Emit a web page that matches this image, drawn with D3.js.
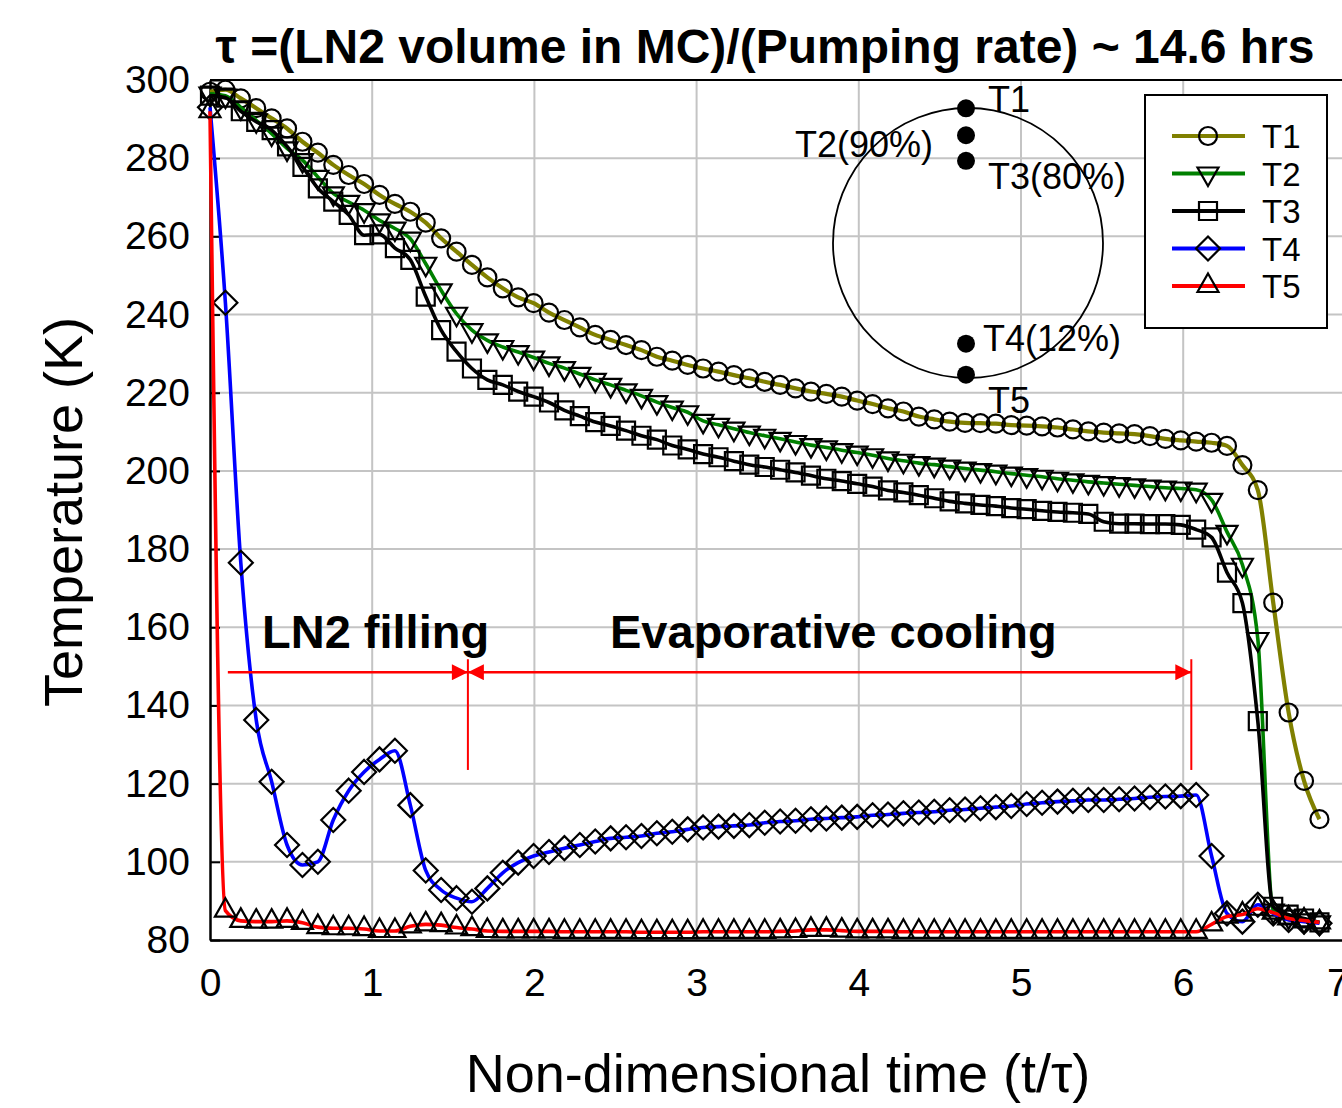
<!DOCTYPE html>
<html>
<head>
<meta charset="utf-8">
<script src="https://cdn.jsdelivr.net/npm/d3@7"></script>
<style>
  body { margin: 0; background: #fff; }
  svg { display: block; font-family: "Liberation Sans", Arial, sans-serif; }
</style>
</head>
<body>
<svg width="1342" height="1108"></svg>
<script>
// sampling interval of the logger, in units of t/tau
const dt = 0.095

const T1 = [297, 297.5, 295.3, 292.8, 290.2, 287.6, 284.2, 281.4, 278.3, 275.7,
  273.4, 270.6, 268.3, 266.3, 263.5, 259.5, 256.1, 252.7, 249.5, 246.7,
  244.4, 242.9, 240.5, 238.6, 236.7, 234.8, 233.5, 232.2, 230.9, 229.2,
  228.2, 227.1, 226.2, 225.4, 224.5, 223.7, 222.8, 222, 221.1, 220.3,
  219.7, 219, 218, 217.1, 216, 215.2, 213.9, 213.2, 212.6, 212.3,
  212.2, 212.1, 211.7, 211.6, 211.4, 211.1, 210.6, 210.1, 209.8, 209.6,
  209.4, 208.9, 208.2, 207.8, 207.5, 207.2, 206.4, 201.5, 195.1, 166.3,
  138.2, 120.7, 110.9]

const T2 = [296.5, 296, 293, 289.7, 286.3, 282.5, 279.5, 275.2, 271, 268.8,
  266.7, 264.1, 262, 259.4, 253, 246.2, 240.2, 236, 233.4, 231.7,
  230.4, 229, 227.5, 226.3, 224.8, 223.3, 222, 220.6, 219.2, 217.6,
  216.2, 215, 212.8, 211.8, 210.8, 209.8, 209, 208.2, 207.4, 206.6,
  206, 205.3, 204.7, 204, 203.2, 202.6, 202, 201.6, 201.1, 200.6,
  200.2, 199.8, 199.3, 198.9, 198.5, 198, 197.6, 197.2, 196.9, 196.6,
  196.3, 196, 195.7, 195.5, 195.2, 192.6, 184.4, 176, 157, 87.5,
  86, 85, 84.5]

const T3 = [296, 295.5, 292, 289.3, 287.2, 283, 277.8, 272.3, 268.9, 265.5,
  260.3, 260.5, 257, 254, 244.6, 236, 230.5, 226.2, 223.3, 222,
  220.3, 219, 217.5, 215.5, 214, 212.5, 211.5, 210.3, 209, 208,
  206.5, 205.5, 204.3, 203.5, 202.5, 201.6, 201, 200.3, 199.6, 198.8,
  198, 197.4, 196.7, 196, 195, 194.5, 193.8, 193, 192.2, 191.7,
  191.3, 191, 190.5, 190.2, 189.8, 189.5, 189.3, 189, 187, 186.5,
  186.5, 186.4, 186.4, 186.2, 185, 183, 174, 166.2, 136, 88.5,
  86.5, 85.5, 84.5]

const T4 = [293, 243, 176.5, 136.3, 120.5, 104.3, 99.2, 100, 110.7, 118.2,
  123, 126.2, 128.4, 114.5, 97.8, 92.8, 90.7, 89.8, 93.2, 97.2,
  99.8, 101.5, 102.5, 103.5, 104.3, 105.2, 106, 106.3, 106.6, 107.3,
  107.7, 108.3, 108.8, 109, 109.2, 109.4, 110, 110.3, 110.5, 110.9,
  111.1, 111.3, 111.5, 111.9, 112.1, 112.4, 112.6, 112.8, 113.2, 113.4,
  113.7, 114, 114.3, 114.8, 115.1, 115.4, 115.6, 115.8, 115.8, 116,
  116.2, 116.5, 116.7, 116.8, 117.1, 101.5, 86.8, 84.7, 89, 86.8,
  85.1, 84.7, 84.3]

const T5 = [292, 87.5, 84.9, 84.7, 84.7, 84.9, 84.4, 83.3, 83, 83,
  82.8, 82.3, 82.3, 83.5, 84, 83.8, 83.2, 82.8, 82.3, 82.2,
  82.2, 82.2, 82.2, 82.1, 82.1, 82.1, 82.1, 82.1, 82, 82,
  82, 82, 82.1, 82.1, 82.1, 82.1, 82.1, 82.2, 82.3, 82.6,
  82.6, 82.4, 82.2, 82.2, 82.2, 82.1, 82.1, 82.1, 82.1, 82.1,
  82.1, 82.1, 82.1, 82.1, 82.1, 82.1, 82.1, 82.1, 82.1, 82.1,
  82.1, 82.1, 82.1, 82.1, 82.1, 84, 86, 86.5, 88, 87,
  85.5, 85, 84.5]

const seriesNames = ["T1", "T2", "T3", "T4", "T5"]
const seriesColors = ["#808000", "#008000", "#000000", "#0000ff", "#ff0000"]
const seriesMarkers = ["circle", "tridown", "square", "diamond", "triup"]
const seriesData = [T1, T2, T3, T4, T5]

const xTicks = [0, 1, 2, 3, 4, 5, 6, 7]
const yTicks = [80, 100, 120, 140, 160, 180, 200, 220, 240, 260, 280, 300]

// inset: sensor positions in the tank (fraction of height shown in labels)
const probes = [
  {label: "T1", k: 0.995},
  {label: "T2(90%)", k: 0.895},
  {label: "T3(80%)", k: 0.8},
  {label: "T4(12%)", k: 0.12},
  {label: "T5", k: 0.005}
]

// phase boundaries (t/tau) and the arrow level / tick bottom (K)
const phaseEdges = [0.11, 1.59, 6.05]
const arrowLevel = 148.5
const phaseTickBottom = 123.5

///////////////////////

const margin = {top: 80, left: 210}
const width = 1135.4, height = 860

const x = d3.scaleLinear().domain([0, 7]).range([margin.left, margin.left + width])
const y = d3.scaleLinear().domain([80, 300]).range([margin.top + height, margin.top])

const svg = d3.select("svg")

// grid
svg.append("g")
    .selectAll("line")
    .data(xTicks.filter(d => d > 0))
    .enter().append("line")
    .attr("x1", d => x(d)).attr("x2", d => x(d))
    .attr("y1", y(80)).attr("y2", y(300))
    .attr("stroke", "#c4c4c4").attr("stroke-width", 2)

svg.append("g")
    .selectAll("line")
    .data(yTicks.filter(d => d > 80 && d < 300))
    .enter().append("line")
    .attr("x1", x(0)).attr("x2", x(7))
    .attr("y1", d => y(d)).attr("y2", d => y(d))
    .attr("stroke", "#c4c4c4").attr("stroke-width", 2)

// axes
const yAxis = d3.axisLeft(y).tickValues(yTicks).tickSizeInner(-10).tickSizeOuter(0).tickPadding(20)
const gy = svg.append("g").attr("transform", `translate(${x(0)},0)`).call(yAxis)
gy.select(".domain").attr("stroke-width", 2.5)
gy.selectAll(".tick line").attr("stroke-width", 2)
gy.selectAll("text").attr("font-size", 39).attr("font-family", "Liberation Sans, Arial").attr("fill", "#000")

const xAxis = d3.axisBottom(x).tickValues(xTicks).tickFormat(d3.format("d")).tickSize(0).tickPadding(28)
const gx = svg.append("g").attr("transform", `translate(0,${y(80)})`).call(xAxis)
gx.select(".domain").attr("stroke-width", 2.5)
gx.selectAll("text").attr("font-size", 39).attr("font-family", "Liberation Sans, Arial").attr("fill", "#000")
// last label sits at the window edge, as in the original
gx.selectAll(".tick").filter(d => d === 7).select("text").attr("dx", -8)

// top frame
svg.append("line")
    .attr("x1", x(0)).attr("x2", x(7))
    .attr("y1", y(300)).attr("y2", y(300))
    .attr("stroke", "#000").attr("stroke-width", 2)

// titles
svg.append("text")
    .attr("x", 765).attr("y", 63)
    .attr("text-anchor", "middle")
    .attr("font-size", 48).attr("font-weight", "bold")
    .text("τ =(LN2 volume in MC)/(Pumping rate) ~ 14.6 hrs")

svg.append("text")
    .attr("transform", "translate(82,512) rotate(-90)")
    .attr("text-anchor", "middle")
    .attr("font-size", 54)
    .text("Temperature (K)")

svg.append("text")
    .attr("x", 778).attr("y", 1092)
    .attr("text-anchor", "middle")
    .attr("font-size", 54)
    .text("Non-dimensional time (t/τ)")

// markers
function markerPath(type) {
    if (type === "circle") return d3.symbol(d3.symbolCircle, Math.PI * 9 * 9)()
    if (type === "square") return "M-9,-9H9V9H-9Z"
    if (type === "diamond") return "M0,-12L12,0L0,12L-12,0Z"
    if (type === "triup") return "M0,-12.5L10.5,6L-10.5,6Z"
    if (type === "tridown") return "M0,12.5L10.5,-6L-10.5,-6Z"
}

const line = d3.line()
    .x((d, i) => x(i * dt))
    .y(d => y(d))
    .curve(d3.curveMonotoneX)

seriesData.forEach((data, k) => {
    svg.append("path")
        .datum(data)
        .attr("d", line)
        .attr("fill", "none")
        .attr("stroke", seriesColors[k])
        .attr("stroke-width", k === 0 ? 4.2 : 3.6)

    svg.append("g")
        .selectAll("path")
        .data(data)
        .enter().append("path")
        .attr("transform", (d, i) => `translate(${x(i * dt)},${y(d)})`)
        .attr("d", markerPath(seriesMarkers[k]))
        .attr("fill", "none")
        .attr("stroke", "#000")
        .attr("stroke-width", 2.2)
})

// annotations
const red = "#ff0000"
svg.append("defs").append("marker")
    .attr("id", "arrow")
    .attr("viewBox", "0 0 10 10")
    .attr("refX", 10).attr("refY", 5)
    .attr("markerUnits", "userSpaceOnUse")
    .attr("markerWidth", 18).attr("markerHeight", 16)
    .attr("orient", "auto-start-reverse")
    .append("path").attr("d", "M0,0L10,5L0,10Z").attr("fill", red)

const arrowY = y(arrowLevel)
svg.append("line")
    .attr("x1", x(phaseEdges[0])).attr("x2", x(phaseEdges[1]))
    .attr("y1", arrowY).attr("y2", arrowY)
    .attr("stroke", red).attr("stroke-width", 2.5)
    .attr("marker-end", "url(#arrow)")
svg.append("line")
    .attr("x1", x(phaseEdges[1])).attr("x2", x(phaseEdges[2]))
    .attr("y1", arrowY).attr("y2", arrowY)
    .attr("stroke", red).attr("stroke-width", 2.5)
    .attr("marker-start", "url(#arrow)")
    .attr("marker-end", "url(#arrow)")
phaseEdges.slice(1).forEach(t => {
    svg.append("line")
        .attr("x1", x(t)).attr("x2", x(t))
        .attr("y1", arrowY - 13).attr("y2", y(phaseTickBottom))
        .attr("stroke", red).attr("stroke-width", 2)
})

svg.append("text")
    .attr("x", 262).attr("y", 648)
    .attr("font-size", 47).attr("font-weight", "bold")
    .text("LN2 filling")
svg.append("text")
    .attr("x", 610).attr("y", 648)
    .attr("font-size", 47).attr("font-weight", "bold")
    .text("Evaporative cooling")

// inset: tank cross-section
const inset = {cx: 968, cy: 243, r: 135}
svg.append("circle")
    .attr("cx", inset.cx).attr("cy", inset.cy).attr("r", inset.r)
    .attr("fill", "none").attr("stroke", "#000").attr("stroke-width", 1.8)

const probeY = d3.scaleLinear().domain([0, 1]).range([376, 107])
svg.append("g")
    .selectAll("circle")
    .data(probes)
    .enter().append("circle")
    .attr("cx", 966).attr("cy", d => probeY(d.k))
    .attr("r", 9).attr("fill", "#000")

const probeLabelPos = [
    {x: 988, y: 112, anchor: "start"},
    {x: 933, y: 157, anchor: "end"},
    {x: 988, y: 189, anchor: "start"},
    {x: 983, y: 351, anchor: "start"},
    {x: 988, y: 413, anchor: "start"}
]
svg.append("g")
    .selectAll("text")
    .data(probes)
    .enter().append("text")
    .attr("x", (d, i) => probeLabelPos[i].x)
    .attr("y", (d, i) => probeLabelPos[i].y)
    .attr("text-anchor", (d, i) => probeLabelPos[i].anchor)
    .attr("font-size", 36)
    .text(d => d.label)

// legend
const legend = svg.append("g")
legend.append("rect")
    .attr("x", 1145).attr("y", 95).attr("width", 182).attr("height", 233)
    .attr("fill", "#fff").attr("stroke", "#000").attr("stroke-width", 2)

seriesNames.forEach((name, k) => {
    const ly = 136 + k * 37.5
    legend.append("line")
        .attr("x1", 1172).attr("x2", 1245).attr("y1", ly).attr("y2", ly)
        .attr("stroke", seriesColors[k]).attr("stroke-width", 4)
    legend.append("path")
        .attr("transform", `translate(1208,${ly})`)
        .attr("d", markerPath(seriesMarkers[k]))
        .attr("fill", "none").attr("stroke", "#000").attr("stroke-width", 2.2)
    legend.append("text")
        .attr("x", 1262).attr("y", ly + 12)
        .attr("font-size", 33)
        .text(name)
})
</script>
</body>
</html>
